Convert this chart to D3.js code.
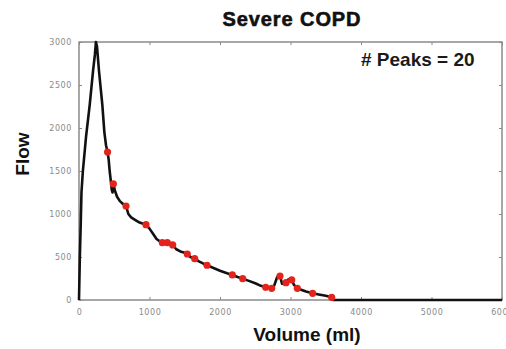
<!DOCTYPE html>
<html>
<head>
<meta charset="utf-8">
<script src="https://cdn.jsdelivr.net/npm/d3@7"></script>
<style>
  html, body { margin: 0; padding: 0; background: #fff; }
  svg text { font-family: Arial, "Liberation Sans", sans-serif; }
</style>
</head>
<body>
<div id="chart"></div>
<script>
// flow-volume curve
const volume = [0, 12, 25, 35, 55, 100, 152, 199, 225, 240, 255, 284, 331, 360, 383,
  405, 420, 435, 452, 465, 475, 487, 510, 540, 580, 620, 667, 700, 740, 800, 860, 950, 1000, 1050, 1100,
  1150, 1182, 1220, 1253, 1290, 1329, 1380, 1450, 1500, 1536, 1580, 1641, 1700, 1760, 1816, 1900, 2000,
  2100, 2175, 2250, 2322, 2400, 2500, 2580, 2648, 2733, 2770, 2810, 2851, 2880, 2910, 2936, 2970, 3017,
  3050, 3097, 3150, 3220, 3314, 3400, 3500, 3584, 3610, 6000];
const flow = [0, 500, 900, 1250, 1500, 1900, 2270, 2660, 2850, 3000, 2950, 2660, 2270, 1950, 1800,
  1720, 1640, 1500, 1380, 1280, 1250, 1350, 1270, 1200, 1150, 1120, 1093, 1000, 960, 930, 900, 876, 830, 770, 710,
  680, 667, 670, 667, 650, 640, 590, 560, 550, 535, 500, 481, 450, 425, 404, 375, 340,
  310, 291, 268, 248, 225, 195, 165, 148, 136, 170, 265, 279, 190, 185, 201, 240, 233,
  175, 136, 120, 100, 78, 65, 50, 31, 0, 0];

// detected peaks
const peakVolume = [405, 487, 667, 950, 1182, 1253, 1329, 1536, 1641, 1816, 2175, 2322,
  2648, 2733, 2851, 2936, 3017, 3097, 3314, 3584];
const peakFlow = [1720, 1350, 1093, 876, 667, 667, 640, 535, 481, 404, 291, 248,
  148, 136, 279, 201, 233, 136, 78, 31];

const xTicks = [0, 1000, 2000, 3000, 4000, 5000, 6000];
const yTicks = [0, 500, 1000, 1500, 2000, 2500, 3000];

const W = 506, H = 349;
const margin = { top: 42, right: 4, bottom: 49, left: 79 };
const width = W - margin.left - margin.right;
const height = H - margin.top - margin.bottom;

const svg = d3.select("#chart").append("svg")
    .attr("width", W)
    .attr("height", H);

const g = svg.append("g")
    .attr("transform", `translate(${margin.left},${margin.top})`);

const x = d3.scaleLinear().domain([0, 6000]).range([0, width]);
const y = d3.scaleLinear().domain([0, 3000]).range([height, 0]);

const axisColor = "#8a8a8a";

function styleAxis(sel) {
    sel.select(".domain").remove();
    sel.selectAll(".tick line").attr("stroke", axisColor);
    sel.selectAll(".tick text")
        .attr("fill", "#8a8a8a")
        .style("font-family", "'DejaVu Sans', sans-serif")
        .style("font-size", "8px")
        .style("letter-spacing", "0.6px");
}

// ticks inward, like matlab
g.append("g")
    .attr("transform", `translate(0,${height})`)
    .call(d3.axisBottom(x).tickValues(xTicks).tickFormat(d3.format("d"))
        .tickSizeInner(-3).tickSizeOuter(0).tickPadding(9))
    .call(styleAxis);

g.append("g")
    .call(d3.axisLeft(y).tickValues(yTicks).tickFormat(d3.format("d"))
        .tickSizeInner(-3).tickSizeOuter(0).tickPadding(7))
    .call(styleAxis);

g.append("g")
    .call(d3.axisTop(x).tickValues(xTicks).tickSizeInner(-3).tickSizeOuter(0).tickFormat(""))
    .call(styleAxis);

g.append("g")
    .attr("transform", `translate(${width},0)`)
    .call(d3.axisRight(y).tickValues(yTicks).tickSizeInner(-3).tickSizeOuter(0).tickFormat(""))
    .call(styleAxis);

g.append("rect")
    .attr("width", width)
    .attr("height", height)
    .attr("fill", "none")
    .attr("stroke", axisColor)
    .attr("stroke-width", 1.5);

const pts = volume.map((v, i) => [v, flow[i]]);

g.append("path")
    .datum(pts)
    .attr("fill", "none")
    .attr("stroke", "#111")
    .attr("stroke-width", 2.6)
    .attr("stroke-linejoin", "round")
    .attr("d", d3.line().x(d => x(d[0])).y(d => y(d[1])));

g.selectAll(".peak")
    .data(peakVolume.map((v, i) => [v, peakFlow[i]]))
    .enter().append("circle")
    .attr("class", "peak")
    .attr("cx", d => x(d[0]))
    .attr("cy", d => y(d[1]))
    .attr("r", 3.6)
    .attr("fill", "#e3241d");

svg.append("text")
    .attr("x", 292)
    .attr("y", 26)
    .attr("text-anchor", "middle")
    .style("font-size", "20px")
    .style("font-weight", "bold")
    .style("letter-spacing", "0.9px")
    .style("stroke", "#111")
    .style("stroke-width", "0.6px")
    .attr("fill", "#111")
    .text("Severe COPD");

svg.append("text")
    .attr("x", 361)
    .attr("y", 66)
    .style("font-size", "19px")
    .style("font-weight", "bold")
    .attr("fill", "#1a1a1a")
    .text("# Peaks = 20");

svg.append("text")
    .attr("transform", "translate(29,154) rotate(-90)")
    .attr("text-anchor", "middle")
    .style("font-size", "19px")
    .style("font-weight", "bold")
    .attr("fill", "#111")
    .text("Flow");

svg.append("text")
    .attr("x", 307)
    .attr("y", 341)
    .attr("text-anchor", "middle")
    .style("font-size", "19px")
    .style("font-weight", "bold")
    .attr("fill", "#111")
    .text("Volume (ml)");
</script>
</body>
</html>
